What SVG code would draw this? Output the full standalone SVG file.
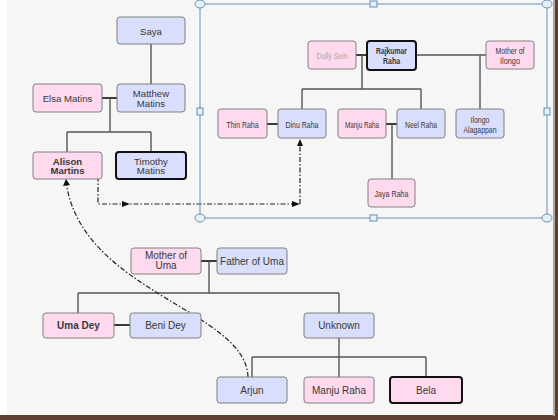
<svg xmlns="http://www.w3.org/2000/svg" width="558" height="420" viewBox="0 0 558 420">
<style>
text{font-family:"Liberation Sans",Arial,sans-serif;fill:#383838;text-anchor:middle}
.l text{font-size:9.6px}
.r text{font-size:9.2px}
.b text{font-size:10px}
.p{fill:#ffd9ee;stroke:#808080;stroke-width:1}
.u{fill:#d9defc;stroke:#808080;stroke-width:1}
.k{stroke:#111;stroke-width:2}
.bold{font-weight:bold}
.c{fill:none;stroke:#555;stroke-width:1.4}
.cp{fill:none;stroke:#3a3a3a;stroke-width:2.2}
.d{fill:none;stroke:#222;stroke-width:1.2;stroke-dasharray:5 2 1.5 2}
.sel{fill:none;stroke:#6b90bb;stroke-width:1}
.h{fill:#e4f2f8;stroke:#6b90bb;stroke-width:1}
</style>
<rect x="0" y="0" width="558" height="420" fill="#ffffff"/>
<rect x="7" y="0" width="546" height="416" fill="#f6f6f6"/>
<rect x="553" y="0" width="5" height="420" fill="#5e4030"/>
<rect x="0" y="415" width="558" height="5" fill="#5e4030"/>
<rect x="553" y="0" width="2" height="416" fill="#b0a8a4"/>

<g id="connectors">
<path class="cp" d="M102,98H117M356,55H367M267,124H278M386,124H397M201,261H217M114,325H130"/>
<path class="c" d="M151,44V84M110,98V132M67,132H151M67,132V152M151,132V152"/>
<path class="c" d="M362,55V89M302,89H421M302,89V109M421,89V109M416,55H486M480,55V109M392,124V179"/>
<path class="c" d="M209,261V293M78,293H339M78,293V313M339,293V313M339,338V357M252,357H426M252,357V377M339,357V377M426,357V377"/>
<path class="d" d="M66,177H98V204H298M300,204V142"/>
<path class="d" d="M248,377C246,310 80,292 66,181"/>
<polygon points="122,201 130,204 122,207" fill="#111"/>
<polygon points="292,201 300,204 292,207" fill="#111"/>
<polygon points="297,146 300,139 303,146" fill="#111"/>
<polygon points="63,186 66,179 70,185" fill="#111"/>
</g>

<g class="sel-box">
<rect class="sel" x="200" y="4" width="347" height="214"/>
<ellipse class="h" cx="200" cy="4" rx="5" ry="4"/>
<ellipse class="h" cx="547" cy="4" rx="5" ry="4"/>
<ellipse class="h" cx="200" cy="218" rx="5" ry="4"/>
<ellipse class="h" cx="547" cy="218" rx="5" ry="4"/>
<rect class="h" x="370" y="1" width="7" height="6"/>
<rect class="h" x="370" y="215" width="7" height="6"/>
<rect class="h" x="197" y="108" width="6" height="7"/>
<rect class="h" x="544" y="108" width="6" height="7"/>
</g>

<g class="l">
<g id="saya"><rect class="u" x="117" y="17" width="68" height="27" rx="3"/><text x="151" y="35">Saya</text></g>
<g id="elsa"><rect class="p" x="33" y="84" width="69" height="28" rx="3"/><text x="67.5" y="101.5">Elsa Matins</text></g>
<g id="matthew"><rect class="u" x="117" y="84" width="68" height="28" rx="3"/><text x="151" y="97">Matthew</text><text x="151" y="106.5">Matins</text></g>
<g id="alison"><rect class="p" x="33" y="152" width="69" height="27" rx="3"/><text class="bold" x="67.5" y="164.5">Alison</text><text class="bold" x="67.5" y="174">Martins</text></g>
<g id="timothy"><rect class="u k" x="116" y="152" width="70" height="27" rx="3"/><text x="151" y="164.5">Timothy</text><text x="151" y="174">Matins</text></g>
</g>

<g class="r">
<g id="dolly"><rect class="p" x="308" y="41" width="48" height="28" rx="3"/><text x="332" y="58.5" style="fill:#a8a8a8" textLength="31" lengthAdjust="spacingAndGlyphs">Dolly Sein</text></g>
<g id="rajkumar"><rect class="u k" x="367" y="41" width="49" height="29" rx="3"/><text class="bold" x="391.5" y="53.5" textLength="31" lengthAdjust="spacingAndGlyphs">Rajkumar</text><text class="bold" x="391.5" y="63.5" textLength="17" lengthAdjust="spacingAndGlyphs">Raha</text></g>
<g id="mother-ilongo"><rect class="p" x="486" y="41" width="48" height="28" rx="3"/><text x="510" y="53.5" textLength="29" lengthAdjust="spacingAndGlyphs">Mother of</text><text x="510" y="63.5" textLength="20" lengthAdjust="spacingAndGlyphs">Ilongo</text></g>
<g id="thin"><rect class="p" x="218" y="109" width="49" height="29" rx="3"/><text x="242.5" y="127.5" textLength="32" lengthAdjust="spacingAndGlyphs">Thin Raha</text></g>
<g id="dinu"><rect class="u" x="278" y="109" width="48" height="29" rx="3"/><text x="302" y="127.5" textLength="33" lengthAdjust="spacingAndGlyphs">Dinu Raha</text></g>
<g id="manju1"><rect class="p" x="338" y="109" width="48" height="29" rx="3"/><text x="362" y="127.5" textLength="34" lengthAdjust="spacingAndGlyphs">Manju Raha</text></g>
<g id="neel"><rect class="u" x="397" y="109" width="48" height="29" rx="3"/><text x="421" y="127.5" textLength="32" lengthAdjust="spacingAndGlyphs">Neel Raha</text></g>
<g id="ilongo"><rect class="u" x="456" y="109" width="48" height="29" rx="3"/><text x="480" y="122.5" textLength="19" lengthAdjust="spacingAndGlyphs">Ilongo</text><text x="480" y="132.5" textLength="33" lengthAdjust="spacingAndGlyphs">Alagappan</text></g>
<g id="jaya"><rect class="p" x="368" y="179" width="47" height="28" rx="3"/><text x="391.5" y="196.5" textLength="34" lengthAdjust="spacingAndGlyphs">Jaya Raha</text></g>
</g>

<g class="b">
<g id="mother-uma"><rect class="p" x="131" y="248" width="70" height="26" rx="3"/><text x="166" y="259">Mother of</text><text x="166" y="268.5">Uma</text></g>
<g id="father-uma"><rect class="u" x="217" y="248" width="70" height="26" rx="3"/><text x="252" y="264.5">Father of Uma</text></g>
<g id="uma"><rect class="p" x="43" y="313" width="71" height="25" rx="3"/><text class="bold" x="78.5" y="329">Uma Dey</text></g>
<g id="beni"><rect class="u" x="130" y="313" width="71" height="25" rx="3"/><text x="165.5" y="329">Beni Dey</text></g>
<g id="unknown"><rect class="u" x="304" y="313" width="70" height="25" rx="3"/><text x="339" y="329">Unknown</text></g>
<g id="arjun"><rect class="u" x="217" y="377" width="70" height="26" rx="3"/><text x="252" y="393.5">Arjun</text></g>
<g id="manju2"><rect class="p" x="304" y="377" width="70" height="26" rx="3"/><text x="339" y="393.5">Manju Raha</text></g>
<g id="bela"><rect class="p k" x="390" y="377" width="72" height="26" rx="3"/><text x="426" y="393.5">Bela</text></g>
</g>
</svg>
